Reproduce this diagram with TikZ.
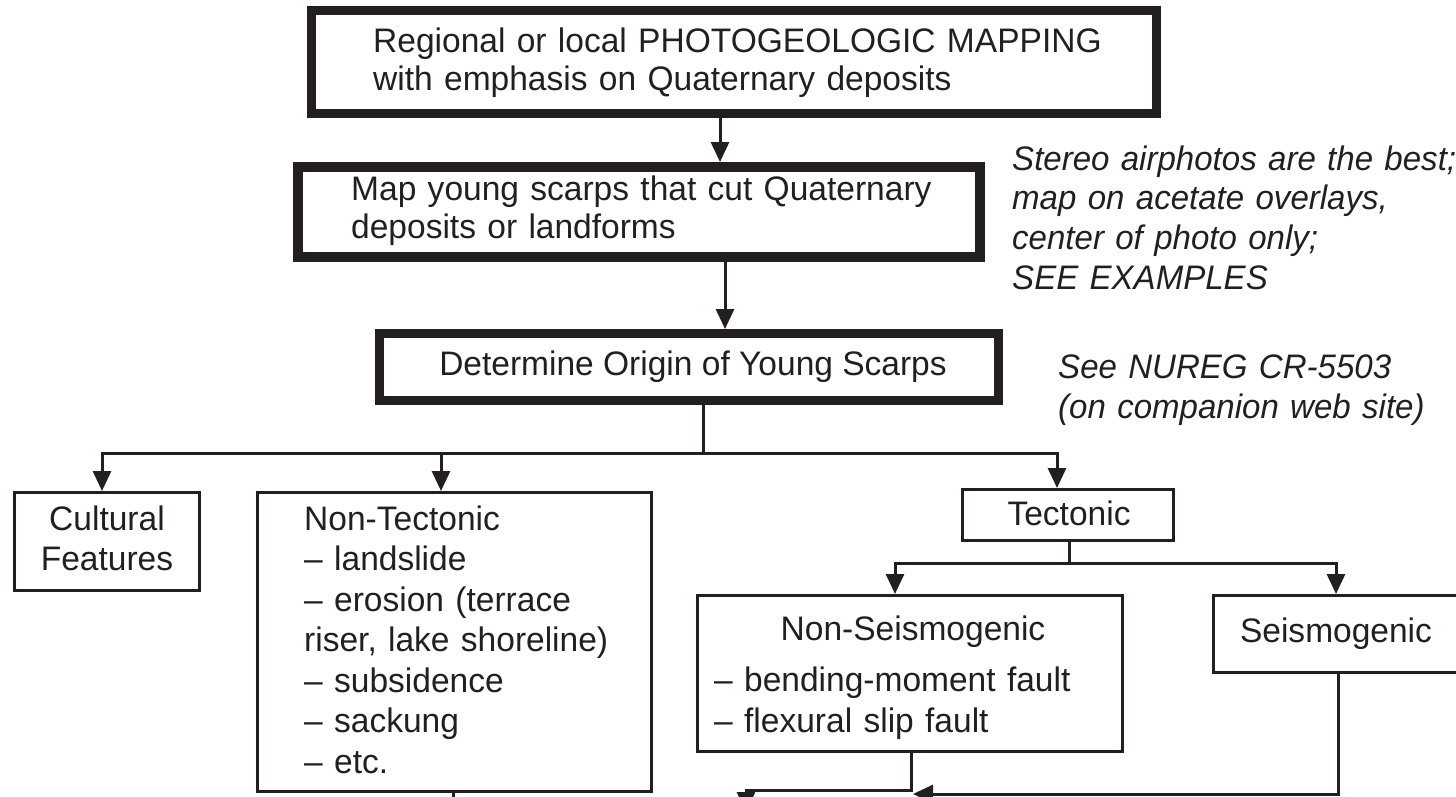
\documentclass[tikz,border=0pt]{standalone}
\usepackage{fontspec}
\setmainfont{Liberation Sans}[FakeStretch=0.986]
\newfontfamily\notefont{Liberation Sans}[FakeStretch=0.972]
\usetikzlibrary{arrows.meta}
\definecolor{ink}{RGB}{35,31,32}
\begin{document}
\begin{tikzpicture}[x=1pt,y=-1pt,
  heavybox/.style={draw=ink, inner sep=0pt},
  lightbox/.style={draw=ink, line width=3pt, inner sep=0pt},
  ln/.style={draw=ink, line width=3pt},
  arr/.style={ln, -{Triangle[length=20pt,width=18pt]}},
  txt/.style={text=ink, inner sep=0pt, font=\fontsize{34}{40}\selectfont},
  note/.style={txt, anchor=base west, align=left},
]
\useasboundingbox (0,0) rectangle (1456,796);
\begin{scope}
\clip (0,0) rectangle (1456,796);

% boxes
\node[heavybox, line width=9pt, minimum width=845pt, minimum height=103pt] (b1) at (734,62) {};
\node[heavybox, line width=10pt, minimum width=682pt, minimum height=90pt] (b2) at (639,212) {};
\node[heavybox, line width=9pt, minimum width=619pt, minimum height=67pt] (b3) at (689,367) {};
\node[lightbox, minimum width=185pt, minimum height=98pt] (cult) at (107,541.5) {};
\node[lightbox, minimum width=394pt, minimum height=299pt] (nt) at (454.5,642) {};
\node[lightbox, minimum width=211pt, minimum height=51pt] (tec) at (1068,515) {};
\node[lightbox, minimum width=425pt, minimum height=156pt] (ns) at (910,673.5) {};
\node[lightbox, minimum width=245pt, minimum height=77pt] (sm) at (1336,634) {};

% texts
\node[note, text width=800pt, font=\fontsize{34}{38}\selectfont] (t1) at (373,52)
  {Regional or local PHOTOGEOLOGIC MAPPING\\with emphasis on Quaternary deposits};
\node[note, text width=620pt, font=\fontsize{34}{38}\selectfont] (t2) at (351,200)
  {Map young scarps that cut Quaternary\\deposits or landforms};
\node[txt, anchor=base] (t3) at (693,375) {Determine Origin of Young Scarps};
\node[note, text width=470pt, font=\notefont\fontsize{34}{39.7}\selectfont\itshape] (n1) at (1012,170)
  {Stereo airphotos are the best;\\map on acetate overlays,\\center of photo only;\\SEE EXAMPLES};
\node[note, text width=390pt, font=\notefont\fontsize{34}{40}\selectfont\itshape] (n2) at (1058,378)
  {See NUREG CR-5503\\(on companion web site)};
\node[txt, anchor=base, text width=185pt, align=center] (cultxt) at (107,530) {Cultural\\Features};
\node[note, text width=345pt, font=\fontsize{34}{40.5}\selectfont] (nttxt) at (304,530)
  {Non-Tectonic\\– landslide\\– erosion (terrace\\riser, lake shoreline)\\– subsidence\\– sackung\\– etc.};
\node[txt, anchor=base] (tectxt) at (1069,525) {Tectonic};
\node[txt, anchor=base] (nstitle) at (913,640) {Non-Seismogenic};
\node[note, text width=400pt, font=\fontsize{34}{41}\selectfont] (nsitems) at (714,691)
  {– bending-moment fault\\– flexural slip fault};
\node[txt, anchor=base] (smtxt) at (1336,642) {Seismogenic};

% connectors
\coordinate (x1) at (720,0);
\coordinate (x2) at (725,0);
\draw[arr] (x1 |- b1.south) -- (x1 |- b2.north);
\draw[arr] (x2 |- b2.south) -- (x2 |- b3.north);

\coordinate (j1) at (703,453);
\coordinate (j1l) at (102,453);
\coordinate (j1m) at (441,453);
\coordinate (j1r) at (1057,453);
\draw[ln] (j1 |- b3.south) -- (j1);
\draw[arr] (j1) -- (j1l) -- (j1l |- cult.north);
\draw[arr] (j1) -- (j1r) -- (j1r |- tec.north);
\draw[arr] (j1m) -- (j1m |- nt.north);

\coordinate (j2) at (1069,563);
\coordinate (j2l) at (895,563);
\coordinate (j2r) at (1336,563);
\draw[ln] (j2 |- tec.south) -- (j2);
\draw[arr] (j2) -- (j2l) -- (j2l |- ns.north);
\draw[arr] (j2) -- (j2r) -- (j2r |- sm.north);

\coordinate (k1) at (911,790);
\coordinate (k1e) at (746,790);
\coordinate (k1d) at (746,812);
\draw[arr] (k1 |- ns.south) -- (k1) -- (k1e) -- (k1d);
\coordinate (k2) at (1338,794);
\coordinate (k2e) at (913,794);
\draw[arr] (k2 |- sm.south) -- (k2) -- (k2e);
\coordinate (k3) at (453,806);
\draw[ln] (k3 |- nt.south) -- (k3);
\end{scope}
\end{tikzpicture}
\end{document}
